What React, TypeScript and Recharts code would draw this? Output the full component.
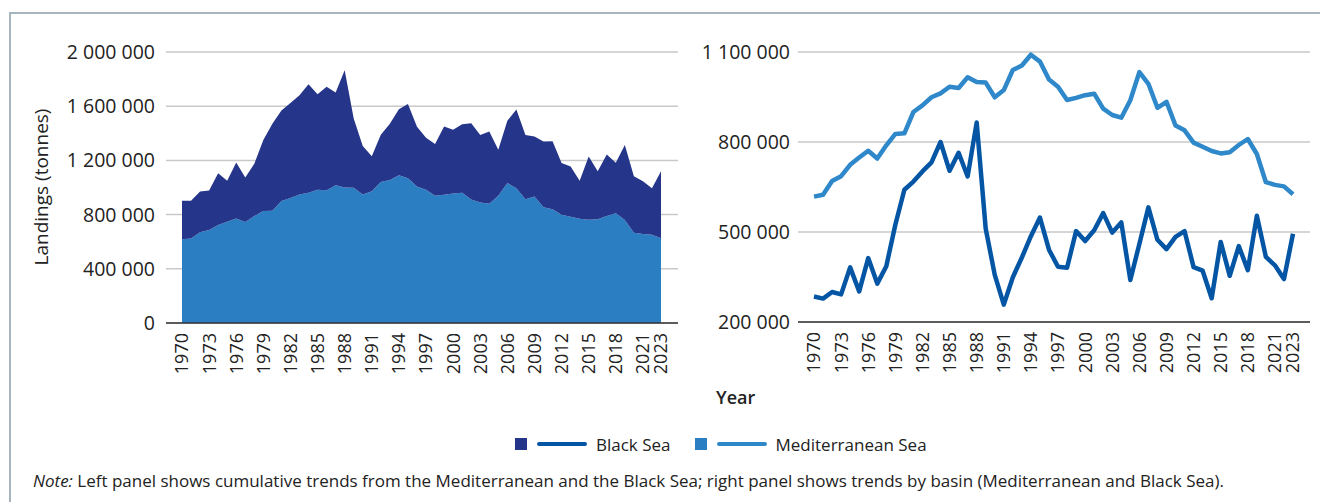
import React from 'react';
import {
  AreaChart,
  Area,
  LineChart,
  Line,
  XAxis,
  YAxis,
  CartesianGrid
} from 'recharts';

// landings in tonnes, 1970-2023
const years = Array.from({ length: 54 }, (_, i) => 1970 + i);
const yearTicks = [1970, 1973, 1976, 1979, 1982, 1985, 1988, 1991, 1994, 1997, 2000, 2003, 2006, 2009, 2012, 2015, 2018, 2021, 2023];

const mediterranean = [
  618000, 624000, 670000, 686000, 724000, 748000, 771000, 745000, 789000, 827000,
  829000, 900000, 922000, 949000, 962000, 984000, 980000, 1016000, 1000000, 998000,
  949000, 973000, 1040000, 1055000, 1091000, 1068000, 1008000, 984000, 940000, 947000,
  956000, 961000, 911000, 890000, 881000, 939000, 1033000, 994000, 914000, 934000,
  855000, 839000, 798000, 784000, 770000, 762000, 766000, 790000, 810000, 760000,
  666000, 657000, 652000, 626000
];

const blackSea = [
  285000, 278000, 300000, 292000, 382000, 302000, 413000, 328000, 386000, 524000,
  641000, 668000, 702000, 732000, 800000, 704000, 764000, 685000, 865000, 511000,
  357000, 258000, 349000, 415000, 486000, 548000, 441000, 384000, 381000, 503000,
  470000, 506000, 563000, 498000, 532000, 340000, 460000, 582000, 474000, 443000,
  484000, 503000, 383000, 371000, 279000, 467000, 354000, 453000, 373000, 554000,
  417000, 389000, 343000, 494000
];

const leftTicks = [0, 400000, 800000, 1200000, 1600000, 2000000];
const rightTicks = [200000, 500000, 800000, 1100000];

const seriesNames = ['Black Sea', 'Mediterranean Sea'];
const areaColors = ['#25358a', '#2b7ec2'];
const lineColors = ['#0456a5', '#2f88c9'];

const data = years.map((year, i) => ({
  year,
  med: mediterranean[i],
  black: blackSea[i]
}));

const fmt = (v: number) => String(v).replace(/\B(?=(\d{3})+(?!\d))/g, '\u00a0');

const YearTick = ({ x, y, payload }: any) => (
  <text
    x={x}
    y={y}
    transform={`rotate(-90, ${x}, ${y})`}
    textAnchor="end"
    dy="0.36em"
    fontSize={18}
    fill="#222"
  >
    {payload.value}
  </text>
);

const App: React.FC = () => {
  return (
    <div style={{
      position: 'absolute',
      left: 0,
      top: 0,
      width: 1320,
      height: 502,
      background: '#fff',
      fontFamily: '"Open Sans", sans-serif',
      color: '#222',
      overflow: 'hidden'
    }}>
      {/* frame */}
      <div style={{ position: 'absolute', left: 9, top: 12, width: 1311, height: 1.5, background: '#a7b6be' }} />
      <div style={{ position: 'absolute', left: 9, top: 12, width: 1.5, height: 490, background: '#a7b6be' }} />

      {/* left panel: stacked landings */}
      <div style={{ position: 'absolute', left: 0, top: 0 }}>
        <AreaChart width={700} height={400} data={data} margin={{ top: 52, right: 22, bottom: 17, left: 0 }}>
          <CartesianGrid vertical={false} stroke="#c9c9c9" strokeWidth={1.5} />
          <XAxis
            dataKey="year"
            type="number"
            domain={[1970, 2023]}
            ticks={yearTicks}
            interval={0}
            padding={{ left: 16, right: 17 }}
            tickLine={false}
            tickMargin={4}
            axisLine={{ stroke: '#333', strokeWidth: 1.5 }}
            height={60}
            tick={<YearTick />}
          />
          <YAxis
            width={166}
            domain={[0, 2000000]}
            ticks={leftTicks}
            tickFormatter={fmt}
            axisLine={false}
            tickLine={false}
            tickMargin={5}
            tick={{ fill: '#222', fontSize: 19.5 }}
          />
          <Area type="linear" dataKey="med" stackId="a" stroke="none" fill={areaColors[1]} fillOpacity={1} isAnimationActive={false} />
          <Area type="linear" dataKey="black" stackId="a" stroke="none" fill={areaColors[0]} fillOpacity={1} isAnimationActive={false} />
        </AreaChart>
      </div>

      <div style={{
        position: 'absolute',
        left: 40.5 - 110,
        top: 187 - 13,
        width: 220,
        height: 26,
        lineHeight: '26px',
        textAlign: 'center',
        fontSize: 19,
        transform: 'rotate(-90deg)'
      }}>
        Landings (tonnes)
      </div>

      {/* right panel: by basin */}
      <div style={{ position: 'absolute', left: 700, top: 0 }}>
        <LineChart width={620} height={400} data={data} margin={{ top: 52, right: 10, bottom: 18, left: 0 }}>
          <CartesianGrid vertical={false} stroke="#c9c9c9" strokeWidth={1.5} />
          <XAxis
            dataKey="year"
            type="number"
            domain={[1970, 2023]}
            ticks={yearTicks}
            interval={0}
            padding={{ left: 16, right: 17 }}
            tickLine={false}
            tickMargin={4}
            axisLine={{ stroke: '#333', strokeWidth: 1.5 }}
            height={60}
            tick={<YearTick />}
          />
          <YAxis
            width={98}
            domain={[200000, 1100000]}
            ticks={rightTicks}
            tickFormatter={fmt}
            axisLine={false}
            tickLine={false}
            tick={{ fill: '#222', fontSize: 19.5 }}
          />
          <Line type="linear" dataKey="med" stroke={lineColors[1]} strokeWidth={4.5} dot={false} strokeLinejoin="round" isAnimationActive={false} />
          <Line type="linear" dataKey="black" stroke={lineColors[0]} strokeWidth={4.5} dot={false} strokeLinejoin="round" isAnimationActive={false} />
        </LineChart>
      </div>

      <div style={{ position: 'absolute', left: 716, top: 384, fontSize: 18, fontWeight: 600, lineHeight: '26px' }}>
        Year
      </div>

      {/* legend */}
      <div style={{ position: 'absolute', left: 515, top: 432, height: 24, display: 'flex', alignItems: 'center', fontSize: 17 }}>
        {seriesNames.map((name, i) => (
          <div key={name} style={{ display: 'flex', alignItems: 'center', marginRight: 24 }}>
            <span style={{ width: 12, height: 12, background: areaColors[i], display: 'inline-block' }} />
            <span style={{ width: 50, height: 4, borderRadius: 2, background: lineColors[i], display: 'inline-block', marginLeft: 10 }} />
            <span style={{ marginLeft: 9 }}>{name}</span>
          </div>
        ))}
      </div>

      {/* note */}
      <div style={{ position: 'absolute', left: 33, top: 469, fontSize: 17, lineHeight: '24px', whiteSpace: 'nowrap' }}>
        <i>Note:</i> Left panel shows cumulative trends from the Mediterranean and the Black Sea; right panel shows trends by basin (Mediterranean and Black Sea).
      </div>
    </div>
  );
};

export default App;
